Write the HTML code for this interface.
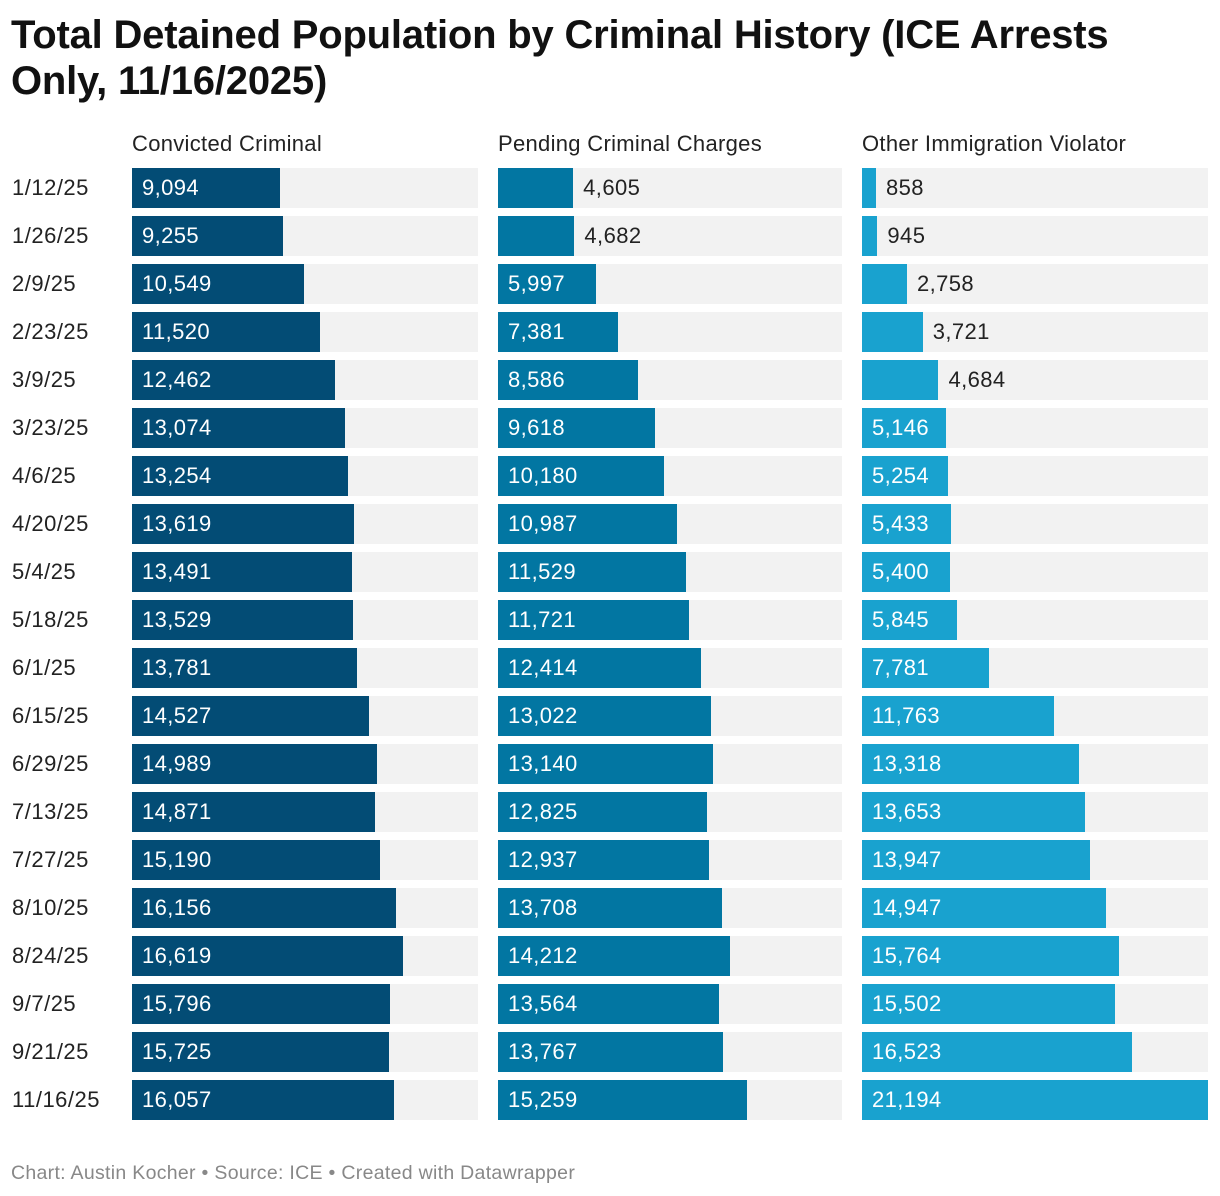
<!DOCTYPE html>
<html><head><meta charset="utf-8">
<style>
body{margin:0;background:#fff;font-family:"Liberation Sans",Roboto,sans-serif;}
#wrap{position:relative;width:1220px;height:1196px;overflow:hidden;}
h1{position:absolute;left:11px;top:12px;margin:0;font-size:40px;line-height:46px;font-weight:bold;color:#111;width:1210px;letter-spacing:-0.2px;white-space:nowrap}
.hdr{position:absolute;top:131px;font-size:22px;color:#222;letter-spacing:0.3px}
.rl{position:absolute;left:12px;font-size:22px;color:#222;line-height:40px;letter-spacing:0.5px}
.bg{position:absolute;height:40px;background:#f2f2f2}
.bar{position:absolute;height:40px}
.val{position:absolute;font-size:22px;line-height:40px;letter-spacing:0.4px}
.foot{position:absolute;left:11px;top:1162px;font-size:19.5px;color:#888;letter-spacing:0.3px}
</style></head><body>
<div id="wrap">
<h1>Total Detained Population by Criminal History (ICE Arrests<br>Only, 11/16/2025)</h1>
<div class="foot">Chart: Austin Kocher • Source: ICE • Created with Datawrapper</div>
</div>
<script>
const dates=["1/12/25","1/26/25","2/9/25","2/23/25","3/9/25","3/23/25","4/6/25","4/20/25","5/4/25","5/18/25","6/1/25","6/15/25","6/29/25","7/13/25","7/27/25","8/10/25","8/24/25","9/7/25","9/21/25","11/16/25"];
const seriesNames=["Convicted Criminal","Pending Criminal Charges","Other Immigration Violator"];
const convicted=[9094,9255,10549,11520,12462,13074,13254,13619,13491,13529,13781,14527,14989,14871,15190,16156,16619,15796,15725,16057];
const pending=[4605,4682,5997,7381,8586,9618,10180,10987,11529,11721,12414,13022,13140,12825,12937,13708,14212,13564,13767,15259];
const other=[858,945,2758,3721,4684,5146,5254,5433,5400,5845,7781,11763,13318,13653,13947,14947,15764,15502,16523,21194];
const series=[convicted,pending,other];
const colors=["#034c75","#0276a2","#19a2cf"];
const panelX=[132,498,862],panelW=[346,344,346];
const maxV=Math.max(...convicted,...pending,...other);
const y=i=>168+i*48;
const w=v=>v/maxV*346;
const wrap=document.getElementById('wrap');
function mk(cls,name){const d=document.createElement('div');d.className=cls;


wrap.appendChild(d);return d;}
seriesNames.forEach((n,p)=>{const h=mk('hdr','column-header');h.textContent=n;h.style.left=panelX[p]+'px';});
dates.forEach((d,i)=>{
 const l=mk('rl','row-label');l.textContent=d;l.style.top=y(i)+'px';
 series.forEach((s,p)=>{
  const bg=mk('bg','bar-background');bg.style.left=panelX[p]+'px';bg.style.top=y(i)+'px';bg.style.width=panelW[p]+'px';
  const b=mk('bar','bar');b.style.left=panelX[p]+'px';b.style.top=y(i)+'px';b.style.width=w(s[i])+'px';b.style.background=colors[p];
  const v=mk('val','bar-value');v.textContent=s[i].toLocaleString('en-US');v.style.top=y(i)+'px';
  if(s[i]>=5000){v.style.left=(panelX[p]+10)+'px';v.style.color='#fff';}
  else{v.style.left=(panelX[p]+w(s[i])+10)+'px';v.style.color='#222';}
 });
});
</script>
</body></html>
